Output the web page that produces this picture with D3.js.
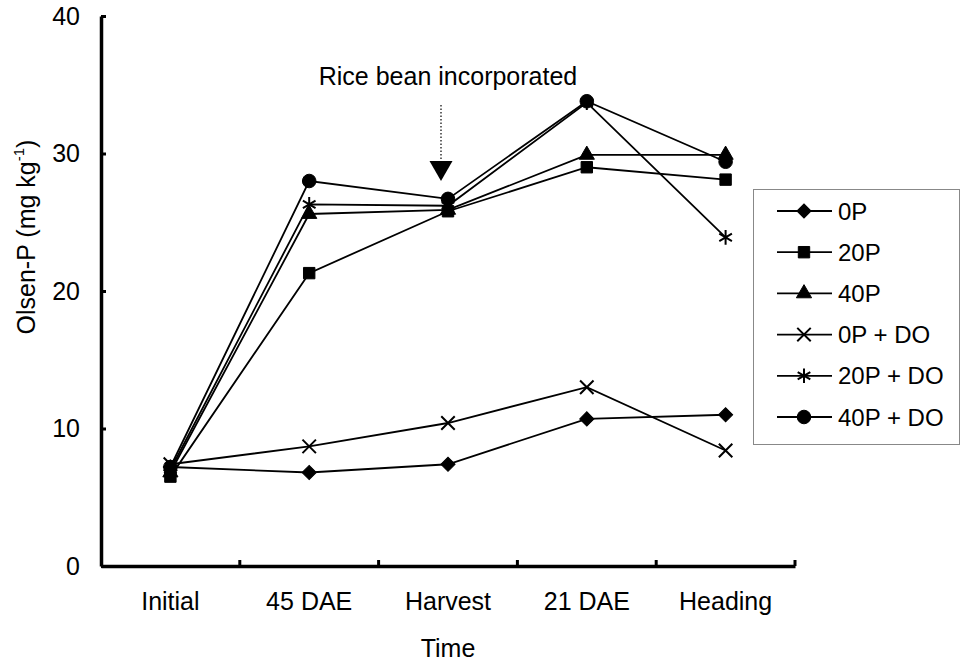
<html>
  <head>
    <script src="https://d3js.org/d3.v7.min.js"></script>
    <style>
      body { margin: 0; background: #fff; }
      text { font-family: "Liberation Sans", Arial, sans-serif; fill: #000; }
    </style>
  </head>
  <body>
    <div id="vis"></div>
  </body>
  <script>
    // Data
    var categories = ["Initial", "45 DAE", "Harvest", "21 DAE", "Heading"]
    var yTicks = [0, 10, 20, 30, 40]
    var seriesNames = ["0P", "20P", "40P", "0P + DO", "20P + DO", "40P + DO"]
    var p0 = [7.2, 6.8, 7.4, 10.7, 11.0]
    var p20 = [6.5, 21.3, 25.8, 29.0, 28.1]
    var p40 = [6.8, 25.6, 25.9, 29.9, 29.9]
    var p0do = [7.4, 8.7, 10.4, 13.0, 8.4]
    var p20do = [7.0, 26.3, 26.2, 33.7, 23.9]
    var p40do = [7.2, 28.0, 26.7, 33.8, 29.4]
    var allSeries = [p0, p20, p40, p0do, p20do, p40do]

    // Set up dimensions
    var W = 963, H = 665
    var plotLeft = 101, plotRight = 795, plotTop = 16, plotBottom = 566
    var fs = 25

    var svg = d3.select("#vis")
      .append("svg")
      .attr("width", W)
      .attr("height", H)

    var x = d3.scaleBand()
      .domain(categories)
      .range([plotLeft, plotRight])
      .padding(0)

    var y = d3.scaleLinear()
      .domain([0, 40])
      .range([plotBottom, plotTop])

    var cx = function(c) { return x(c) + x.bandwidth() / 2 }

    // Marker shapes for each series
    var markers = [
      {type: d3.symbolSquare, size: 100, rotate: 45, fill: true},
      {type: d3.symbolSquare, size: 130, rotate: 0, fill: true},
      {type: d3.symbolTriangle, size: 100, rotate: 0, fill: true},
      {type: d3.symbolX, size: 120, rotate: 0, fill: false},
      {type: d3.symbolAsterisk, size: 150, rotate: 0, fill: false},
      {type: d3.symbolCircle, size: 145, rotate: 0, fill: true}
    ]

    function drawMarker(g, m, px, py) {
      g.append("path")
        .attr("d", d3.symbol().type(m.type).size(m.size)())
        .attr("transform", "translate(" + px + "," + py + ") rotate(" + m.rotate + ")")
        .attr("fill", m.fill ? "#000" : "none")
        .attr("stroke", "#000")
        .attr("stroke-width", m.fill ? 1 : 2)
    }

    // Y axis
    var yAxis = svg.append("g")
      .attr("transform", "translate(" + plotLeft + ",0)")
      .call(d3.axisLeft(y).tickValues(yTicks).tickSizeInner(-5).tickSizeOuter(0).tickPadding(21))
    yAxis.select(".domain").attr("stroke-width", 3.5)
    yAxis.selectAll(".tick line").attr("stroke-width", 3)
    yAxis.selectAll(".tick text")
      .attr("font-size", fs)
      .attr("font-family", '"Liberation Sans", Arial, sans-serif')

    // X axis
    var xAxis = svg.append("g")
      .attr("transform", "translate(0," + plotBottom + ")")
      .call(d3.axisBottom(x).tickSize(0).tickPadding(26))
    xAxis.select(".domain").attr("stroke-width", 3.5)
    xAxis.selectAll(".tick text")
      .attr("font-size", fs)
      .attr("font-family", '"Liberation Sans", Arial, sans-serif')

    // tick marks between categories
    categories.forEach(function(c) {
      svg.append("line")
        .attr("x1", x(c) + x.bandwidth()).attr("x2", x(c) + x.bandwidth())
        .attr("y1", plotBottom).attr("y2", plotBottom - 6)
        .attr("stroke", "#000")
        .attr("stroke-width", 3)
    })

    // Axis titles
    svg.append("text")
      .text("Time")
      .attr("x", (plotLeft + plotRight) / 2)
      .attr("y", 657)
      .attr("text-anchor", "middle")
      .attr("font-size", fs)

    var yl = svg.append("text")
      .attr("transform", "translate(35,237) rotate(-90)")
      .attr("text-anchor", "middle")
      .attr("font-size", fs)
    yl.append("tspan").text("Olsen-P (mg kg")
    yl.append("tspan").text("-1").attr("font-size", 15).attr("dy", -11)
    yl.append("tspan").text(")").attr("dy", 11)

    // Lines
    var line = d3.line()
      .x(function(d, i) { return cx(categories[i]) })
      .y(function(d) { return y(d) })

    allSeries.forEach(function(s, k) {
      var g = svg.append("g")
      g.append("path")
        .datum(s)
        .attr("d", line)
        .attr("fill", "none")
        .attr("stroke", "#000")
        .attr("stroke-width", 1.8)
      s.forEach(function(v, i) {
        drawMarker(g, markers[k], cx(categories[i]), y(v))
      })
    })

    // Annotation: rice bean incorporated
    var ax = cx("Harvest") - 7
    svg.append("text")
      .text("Rice bean incorporated")
      .attr("x", cx("Harvest"))
      .attr("y", 85)
      .attr("text-anchor", "middle")
      .attr("font-size", fs)
    svg.append("line")
      .attr("x1", ax).attr("x2", ax)
      .attr("y1", 105).attr("y2", 160)
      .attr("stroke", "#000")
      .attr("stroke-width", 1.2)
      .attr("stroke-dasharray", "1.5,2")
    svg.append("path")
      .attr("d", "M" + (ax - 11.5) + ",161 L" + (ax + 11.5) + ",161 L" + ax + ",181 Z")
      .attr("fill", "#000")

    // Legend
    var lg = svg.append("g")
    lg.append("rect")
      .attr("x", 753.5).attr("y", 189.5)
      .attr("width", 206).attr("height", 255)
      .attr("fill", "#fff")
      .attr("stroke", "#888")
      .attr("stroke-width", 1)

    seriesNames.forEach(function(name, k) {
      var ry = 211 + k * 41.2
      lg.append("line")
        .attr("x1", 777).attr("x2", 832)
        .attr("y1", ry).attr("y2", ry)
        .attr("stroke", "#000")
        .attr("stroke-width", 1.8)
      drawMarker(lg, markers[k], 804, ry)
      lg.append("text")
        .text(name)
        .attr("x", 838)
        .attr("y", ry + 8.5)
        .attr("font-size", 24)
    })
  </script>
</html>
